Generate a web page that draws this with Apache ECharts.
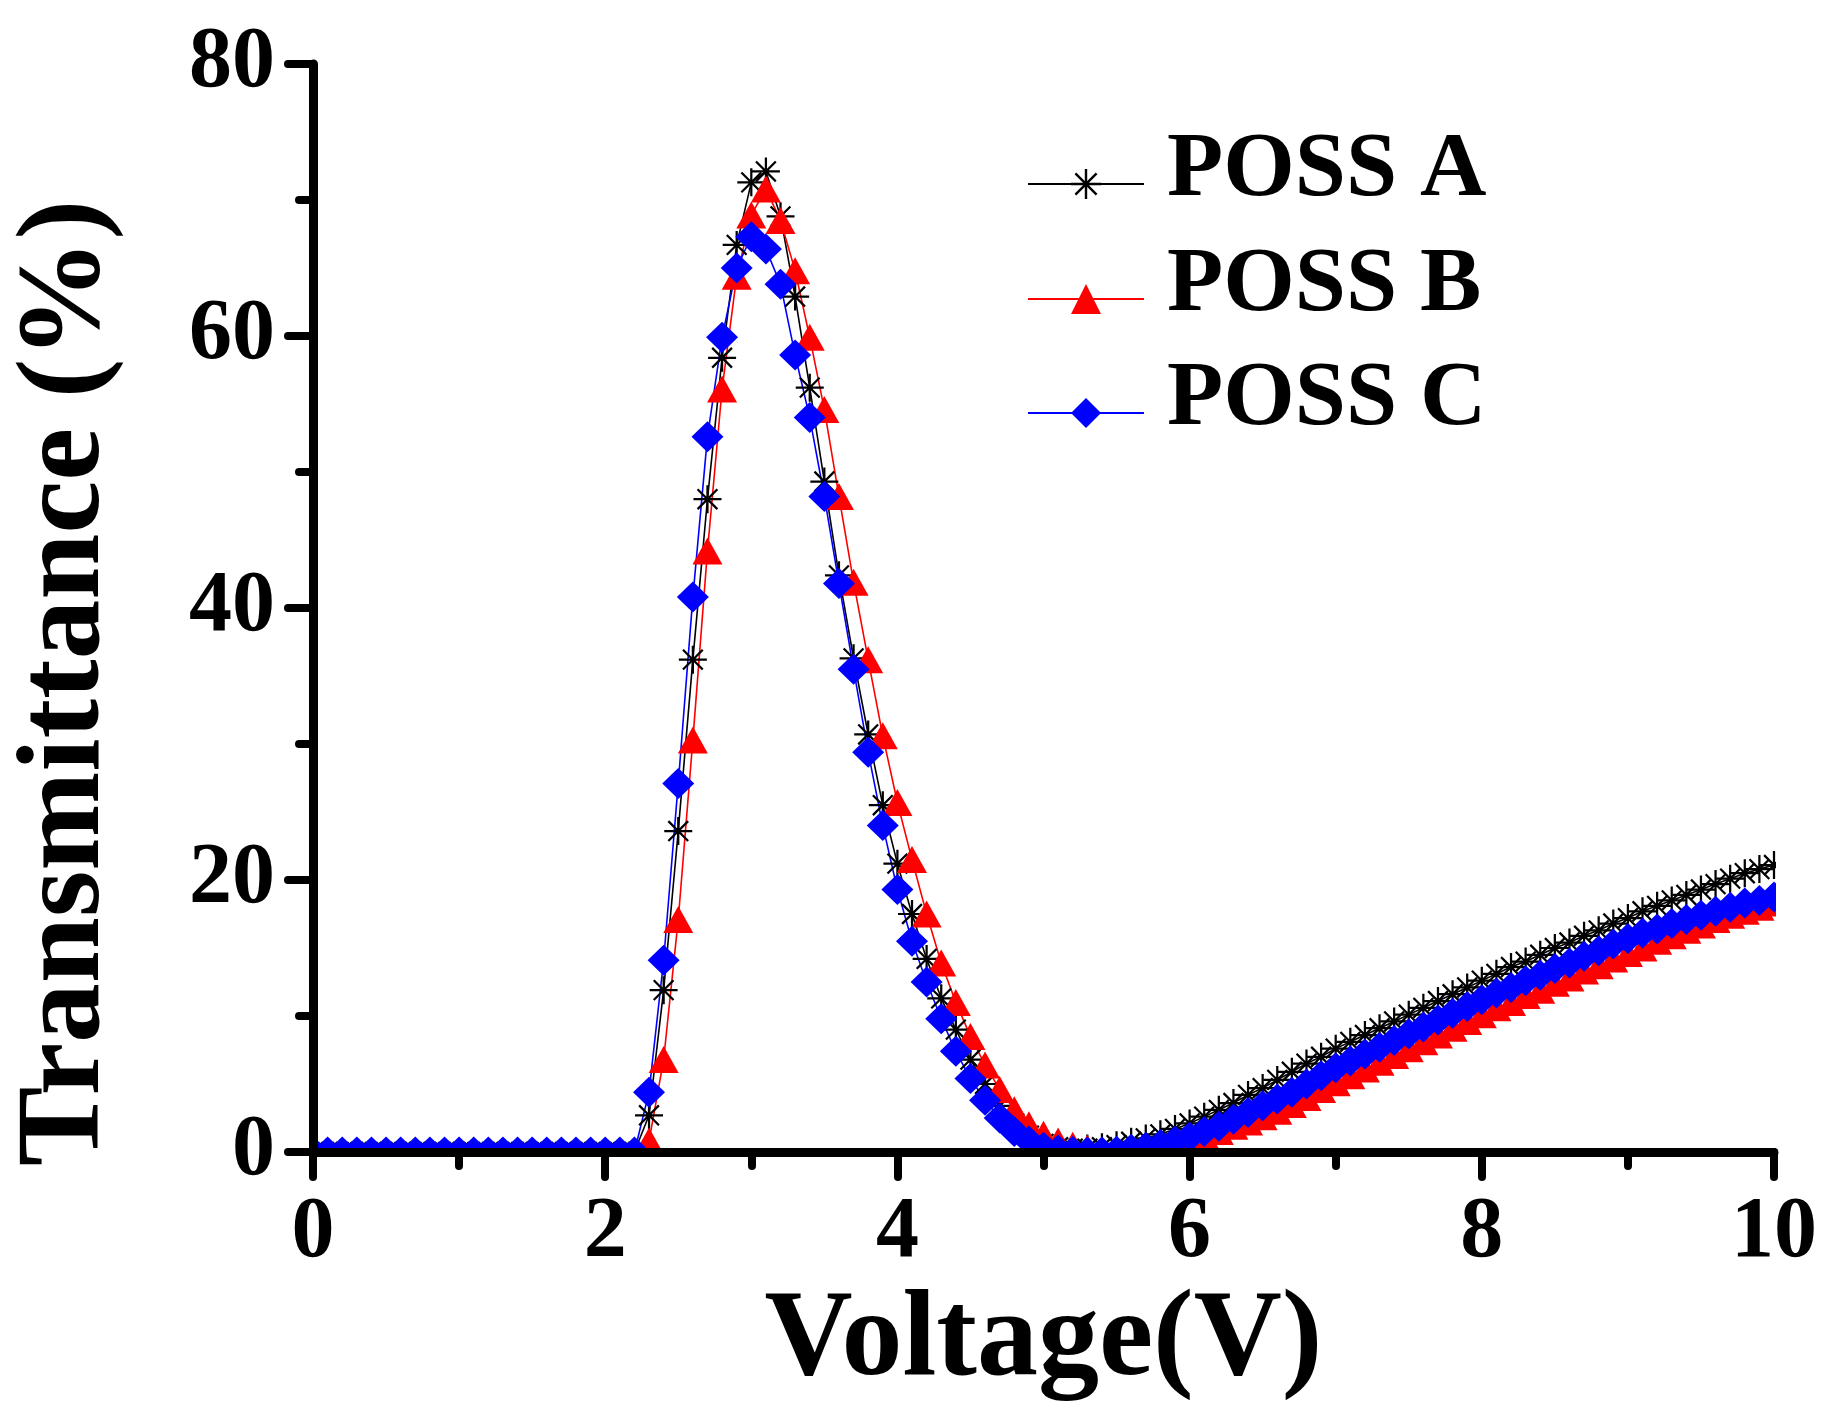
<!DOCTYPE html>
<html>
<head>
<meta charset="utf-8">
<script src="https://cdn.jsdelivr.net/npm/echarts@6/dist/echarts.min.js"></script>
<style>
html,body{margin:0;padding:0;background:#fff;}
#chart{width:1834px;height:1425px;}
</style>
</head>
<body>
<div id="chart"></div>
<script>
var voltage = [0.0,0.1,0.2,0.3,0.4,0.5,0.6,0.7,0.8,0.9,1.0,1.1,1.2,1.3,1.4,1.5,1.6,1.7,1.8,1.9,2.0,2.1,2.2,2.3,2.4,2.5,2.6,2.7,2.8,2.9,3.0,3.1,3.2,3.3,3.4,3.5,3.6,3.7,3.8,3.9,4.0,4.1,4.2,4.3,4.4,4.5,4.6,4.7,4.8,4.9,5.0,5.1,5.2,5.3,5.4,5.5,5.6,5.7,5.8,5.9,6.0,6.1,6.2,6.3,6.4,6.5,6.6,6.7,6.8,6.9,7.0,7.1,7.2,7.3,7.4,7.5,7.6,7.7,7.8,7.9,8.0,8.1,8.2,8.3,8.4,8.5,8.6,8.7,8.8,8.9,9.0,9.1,9.2,9.3,9.4,9.5,9.6,9.7,9.8,9.9,10.0];

var possA = [0,0,0,0,0,0,0,0,0,0,0,0,0,0,0,0,0,0,0,0,0,0,0,
  2.7,11.9,23.6,36.2,48.0,58.4,66.7,71.3,72.1,68.8,62.9,56.2,49.3,42.4,36.3,30.7,25.5,21.2,17.5,14.2,11.3,9.0,
  6.8,5.0,3.4,2.1,1.2,0.6,0.35,0.25,0.25,0.35,0.5,0.75,1.0,1.3,1.7,
  2.1,2.6,3.1,3.6,4.2,4.7,5.3,5.9,6.5,7.0,7.6,8.1,8.6,9.1,9.6,10.1,10.6,11.1,11.6,12.1,
  12.6,13.1,13.6,14.0,14.5,15.0,15.4,15.9,16.3,16.8,17.2,17.7,18.1,18.5,18.9,19.3,19.7,20.1,20.5,20.8,21.1];

var possB = [0,0,0,0,0,0,0,0,0,0,0,0,0,0,0,0,0,0,0,0,0,0,0,
  0.8,6.8,17.1,30.3,44.2,56.1,64.4,68.9,70.8,68.5,64.8,59.9,54.6,48.2,41.9,36.2,30.6,25.7,21.5,17.5,13.9,11.0,
  8.5,6.4,4.6,3.1,2.0,1.3,0.8,0.5,0.3,0.15,0.05,0.1,0.2,0.4,0.6,
  0.9,1.2,1.5,1.9,2.2,2.6,3.0,3.5,4.0,4.6,5.1,5.6,6.1,6.6,7.1,7.6,8.1,8.6,9.1,9.6,
  10.1,10.6,11.0,11.5,11.9,12.4,12.8,13.3,13.7,14.2,14.6,15.0,15.5,15.9,16.3,16.7,17.1,17.4,17.7,18.0,18.3];

var possC = [0,0,0,0,0,0,0,0,0,0,0,0,0,0,0,0,0,0,0,0,0,0,0,
  4.4,14.1,27.1,40.8,52.6,59.9,65.0,67.3,66.4,63.8,58.6,54.0,48.2,41.8,35.5,29.4,24.0,19.3,15.5,12.5,9.8,7.4,
  5.4,3.8,2.5,1.5,0.8,0.35,0.15,0.05,0.0,0.0,0.05,0.2,0.35,0.55,0.8,
  1.1,1.5,1.9,2.4,2.9,3.4,3.9,4.4,5.0,5.6,6.2,6.7,7.2,7.7,8.2,8.7,9.2,9.7,10.2,10.7,
  11.2,11.7,12.1,12.6,13.0,13.5,13.9,14.4,14.8,15.3,15.7,16.1,16.4,16.8,17.1,17.4,17.7,18.0,18.3,18.5,18.75];

var seriesNames = ['POSS A', 'POSS B', 'POSS C'];
var xTitle = 'Voltage(V)';
var yTitle = 'Transmittance (%)';

var asterisk = 'path://M46 0L54 0L54 100L46 100Z M0 46L100 46L100 54L0 54Z ' +
  'M17.47 11.81L88.19 82.53L82.53 88.19L11.81 17.47Z ' +
  'M88.19 17.47L17.47 88.19L11.81 82.53L82.53 11.81Z';

function pairs(ys) {
  var out = [];
  for (var i = 0; i < voltage.length; i++) out.push([voltage[i], ys[i]]);
  return out;
}

var FONT = "'Liberation Serif', 'Times New Roman', serif";

var legendTops = [125, 240, 354];
var legends = seriesNames.map(function (n, i) {
  return {
    orient: 'vertical',
    left: 1027,
    top: legendTops[i],
    padding: 0,
    itemWidth: 116,
    itemHeight: 37.5,
    data: [n],
    formatter: function (name) { return '{t|' + name + '}\n{s| }'; },
    textStyle: {
      color: '#000',
      rich: {
        t: {fontFamily: FONT, fontWeight: 'bold', fontSize: 92, color: '#000', lineHeight: 60, padding: [0, 0, 0, 18]},
        s: {fontSize: 10, lineHeight: 26}
      }
    }
  };
});

var chart = echarts.init(document.getElementById('chart'), null, {renderer: 'canvas'});
chart.setOption({
  animation: false,
  backgroundColor: '#ffffff',
  grid: {left: 313, right: 60, top: 64, bottom: 273, containLabel: false},
  legend: legends,
  xAxis: {
    type: 'value', min: 0, max: 10, interval: 2, z: 5,
    name: xTitle, nameLocation: 'middle', nameGap: 116,
    nameTextStyle: {fontFamily: FONT, fontWeight: 'bold', fontSize: 122, color: '#000'},
    axisLine: {show: true, onZero: false, lineStyle: {color: '#000', width: 9, cap: 'round'}},
    axisTick: {show: true, inside: false, length: 25, lineStyle: {color: '#000', width: 8, cap: 'round'}},
    minorTick: {show: true, splitNumber: 2, length: 14, lineStyle: {color: '#000', width: 8, cap: 'round'}},
    axisLabel: {fontFamily: FONT, fontWeight: 'bold', fontSize: 86, color: '#000', margin: 39},
    splitLine: {show: false}
  },
  yAxis: {
    type: 'value', min: 0, max: 80, interval: 20, z: 5,
    name: yTitle, nameLocation: 'middle', nameGap: 186,
    nameTextStyle: {fontFamily: FONT, fontWeight: 'bold', fontSize: 119, color: '#000', padding: [0, 150, 0, 0]},
    axisLine: {show: true, onZero: false, lineStyle: {color: '#000', width: 9, cap: 'round'}},
    axisTick: {show: true, inside: false, length: 25, lineStyle: {color: '#000', width: 8, cap: 'round'}},
    minorTick: {show: true, splitNumber: 2, length: 14, lineStyle: {color: '#000', width: 8, cap: 'round'}},
    axisLabel: {fontFamily: FONT, fontWeight: 'bold', fontSize: 86, color: '#000', margin: 38},
    splitLine: {show: false}
  },
  graphic: [
    {type: 'rect', z: 3, silent: true, shape: {x: 0, y: 0, width: 311, height: 1425}, style: {fill: '#fff'}},
    {type: 'rect', z: 3, silent: true, shape: {x: 0, y: 1153, width: 1834, height: 272}, style: {fill: '#fff'}},
    {type: 'rect', z: 3, silent: true, shape: {x: 1776, y: 0, width: 58, height: 1425}, style: {fill: '#fff'}}
  ],
  series: [
    {
      name: seriesNames[0], type: 'line', data: pairs(possA), z: 2,
      symbol: asterisk, symbolSize: 28,
      itemStyle: {color: '#000'},
      lineStyle: {color: '#000', width: 1.6},
      clip: false
    },
    {
      name: seriesNames[1], type: 'line', data: pairs(possB), z: 2,
      symbol: 'triangle', symbolSize: [30, 27],
      itemStyle: {color: '#ff0000'},
      lineStyle: {color: '#ff0000', width: 1.6},
      clip: false
    },
    {
      name: seriesNames[2], type: 'line', data: pairs(possC), z: 2,
      symbol: 'diamond', symbolSize: [32, 31],
      itemStyle: {color: '#0000ff'},
      lineStyle: {color: '#0000ff', width: 1.6},
      clip: false
    }
  ]
});
</script>
</body>
</html>
